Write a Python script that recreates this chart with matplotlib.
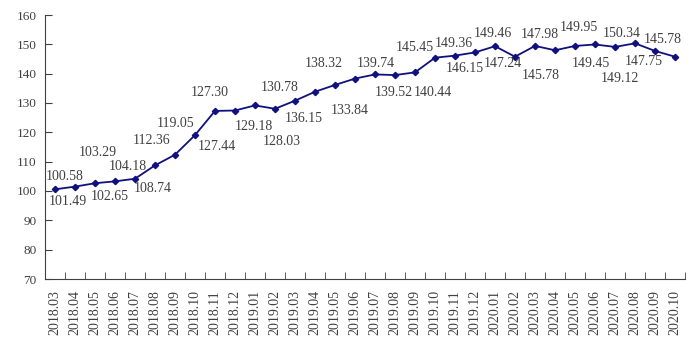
import matplotlib
matplotlib.use("Agg")
import matplotlib.pyplot as plt

months = [
    "2018.03", "2018.04", "2018.05", "2018.06", "2018.07", "2018.08", "2018.09",
    "2018.10", "2018.11", "2018.12", "2019.01", "2019.02", "2019.03", "2019.04",
    "2019.05", "2019.06", "2019.07", "2019.08", "2019.09", "2019.10", "2019.11",
    "2019.12", "2020.01", "2020.02", "2020.03", "2020.04", "2020.05", "2020.06",
    "2020.07", "2020.08", "2020.09", "2020.10",
]
values = [
    100.58, 101.49, 102.65, 103.29, 104.18, 108.74, 112.36, 119.05,
    127.30, 127.44, 129.18, 128.03, 130.78, 133.84, 136.15, 138.32,
    139.74, 139.52, 140.44, 145.45, 146.15, 147.24, 149.36, 145.78,
    149.46, 147.98, 149.45, 149.95, 149.12, 150.34, 147.75, 145.78,
]

# label offsets from each point, in pixels (x right, y down as in the picture)
label_offsets = [
    (10, -13), (-7, 15), (15, 13), (-17, -29), (-7, -12), (-2, 23), (-23, -14), (-19, -12),
    (-5, -18), (-18, 36), (-1, 21), (7, 33), (-15, -13), (35, 19), (-31, 34), (-31, -15),
    (1, -11), (-1, 17), (18, 20), (-20, -10), (10, 13), (28, 11), (-41, -3), (26, 19),
    (-42, -12), (-15, -16), (16, 18), (-16, -17), (5, 32), (-13, -10), (-11, 11), (-12, -17),
]

plt.rcParams["font.family"] = ["Liberation Serif", "DejaVu Serif"]

fig = plt.figure(figsize=(6.95, 3.53), dpi=100)
ax = fig.add_axes([45 / 695, 74 / 353, 640 / 695, 264 / 353])

x = list(range(len(months)))
ax.plot(x, values, color="#101080", linewidth=1.3, marker="D", markersize=3.2)

for i, (v, (dx, dy)) in enumerate(zip(values, label_offsets)):
    ax.annotate(f"{v:.2f}", (i, v), xytext=(dx, -dy), textcoords="offset pixels",
                ha="center", va="center", fontsize=10, color="#404040")

ax.set_xlim(-0.5, len(months) - 0.5)
ax.set_ylim(70, 160)
ax.set_yticks(range(70, 161, 10))
ax.set_xticks([i + 0.5 for i in range(-1, len(months))], minor=True)
ax.set_xticks(x)
ax.set_xticklabels(months, rotation=90, fontsize=10, color="#404040")
ax.tick_params(axis="x", which="major", length=0, pad=8)
ax.tick_params(axis="x", which="minor", direction="in", length=5, color="#404040")
ax.tick_params(axis="y", direction="in", length=5, labelsize=9.5,
               labelcolor="#404040", color="#404040", pad=6)

for side in ["top", "right"]:
    ax.spines[side].set_visible(False)
for side in ["left", "bottom"]:
    ax.spines[side].set_color("#404040")

fig.savefig("out.png", dpi=100)
plt.close(fig)
